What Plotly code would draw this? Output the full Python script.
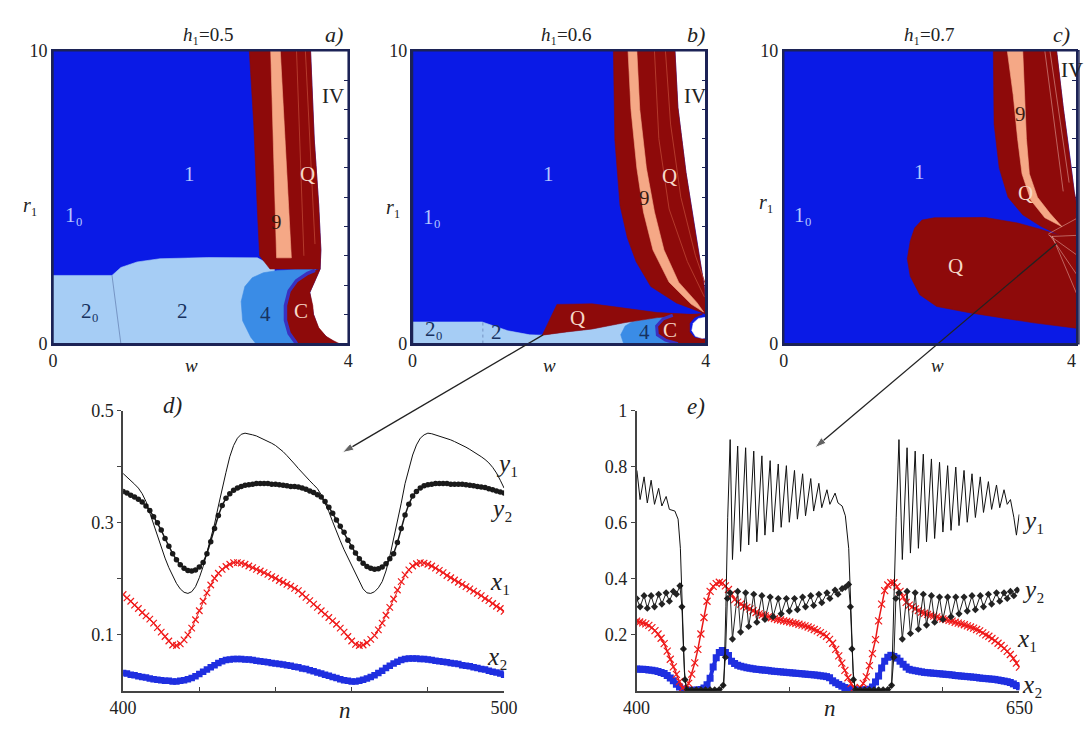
import plotly.graph_objects as go

W, H = 1090, 733
FONT = "Liberation Serif, Times New Roman, DejaVu Serif, serif"

# ---------------- panel a (h1 = 0.5): regions in (w, r1) ----------------
A_BLUE_W = [0, 0, 3.49, 3.54, 3.60, 3.63, 3.62, 3.56, 3.48, 3.53, 3.60, 3.72, 3.86]
A_BLUE_R = [0, 10, 10, 6.98, 4.76, 3.2, 2.55, 2.2, 1.75, 1.0, 0.5, 0.2, 0]
A_LIGHT_W = [0, 0, 0.80, 0.92, 1.14, 1.45, 2.1, 2.77, 2.9, 3.0, 3.0]
A_LIGHT_R = [0, 2.33, 2.33, 2.6, 2.79, 2.9, 2.94, 2.93, 2.75, 2.6, 0]
A_DIV_W = [0.80, 0.92]
A_DIV_R = [2.33, 0]
A_FOUR_W = [2.75, 2.68, 2.57, 2.55, 2.60, 2.70, 2.85, 3.05, 3.3, 3.56, 3.40, 3.34]
A_FOUR_R = [0, 0.22, 0.78, 1.44, 1.95, 2.25, 2.42, 2.5, 2.53, 2.53, 1.0, 0]
A_C_W = [3.30, 3.20, 3.15, 3.15, 3.20, 3.30, 3.45, 3.55, 3.62, 3.56, 3.48, 3.52, 3.53, 3.60, 3.70, 3.80, 3.88]
A_C_R = [0, 0.35, 0.8, 1.3, 1.8, 2.15, 2.4, 2.5, 2.55, 2.2, 1.75, 1.3, 1.0, 0.55, 0.25, 0.1, 0]
A_RED_W = [2.66, 3.49, 3.54, 3.60, 3.63, 3.62, 2.94, 2.80, 2.77, 2.72]
A_RED_R = [10, 10, 6.98, 4.76, 3.2, 2.55, 2.55, 3.0, 4.5, 7.5]
A_NINE_W = [2.95, 3.08, 3.23, 3.03]
A_NINE_R = [10, 10, 2.93, 2.93]
A_STREAK_W = [3.30, 3.40, None, 3.42, 3.55]
A_STREAK_R = [10, 3.0, None, 10, 3.4]

# ---------------- panel b (h1 = 0.6) ----------------
B_BLUE_W = [0, 0, 3.58, 3.62, 3.73, 3.87, 3.98, 4.0, 4.0]
B_BLUE_R = [0, 10, 10, 8.07, 5.85, 3.62, 1.95, 1.0, 0]
B_LIGHT_W = [0, 0, 0.95, 1.1, 1.3, 1.6, 1.77, 2.1, 2.45, 2.9, 3.34, 3.7, 3.7]
B_LIGHT_R = [0, 0.74, 0.74, 0.62, 0.44, 0.3, 0.29, 0.4, 0.5, 0.72, 0.89, 0.95, 0]
B_DIV_W = [0.96, 0.96]
B_DIV_R = [0.72, 0]
B_FOUR_W = [2.88, 2.84, 2.9, 3.0, 3.34, 3.7, 3.7]
B_FOUR_R = [0, 0.3, 0.6, 0.75, 0.89, 0.95, 0]
B_Q_W = [1.77, 1.97, 2.45, 2.9, 3.34, 3.8, 3.96, 3.7, 3.34, 2.9, 2.45, 2.1]
B_Q_R = [0.29, 1.34, 1.36, 1.2, 1.06, 1.0, 1.02, 0.95, 0.89, 0.72, 0.5, 0.4]
B_C_W = [3.55, 3.42, 3.33, 3.34, 3.45, 3.62, 4.0, 4.0, 3.85, 3.78, 3.78, 3.85, 3.95]
B_C_R = [0.97, 0.85, 0.6, 0.3, 0.12, 0, 0, 0.15, 0.2, 0.4, 0.7, 0.9, 1.0]
B_HOLE_W = [3.86, 3.81, 3.83, 3.9, 4.0, 4.0, 3.95]
B_HOLE_R = [0.25, 0.45, 0.7, 0.86, 0.9, 0.2, 0.18]
B_RED_W = [2.74, 3.58, 3.62, 3.73, 3.87, 3.98, 4.0, 3.96, 3.6, 3.25, 3.05, 2.93, 2.83, 2.76]
B_RED_R = [10, 10, 8.07, 5.85, 3.62, 1.95, 1.0, 1.05, 1.39, 1.95, 2.8, 3.62, 4.73, 6.96]
B_NINE_W = [2.94, 2.98, 3.06, 3.15, 3.28, 3.5, 3.8, 3.97, 3.88, 3.63, 3.43, 3.30, 3.19, 3.10, 3.06]
B_NINE_R = [10, 8, 6, 4.5, 3.2, 2.1, 1.35, 1.08, 1.4, 2.1, 3.2, 4.5, 6, 8, 10]
B_STREAK_W = [3.30, 3.36, 3.5, 3.75, 3.98, None, 3.45, 3.52, 3.66, 3.86, 4.0]
B_STREAK_R = [10, 7.0, 4.6, 2.8, 1.6, None, 10, 7.5, 5.0, 3.0, 2.0]

# ---------------- panel c (h1 = 0.7) ----------------
C_BLUE_W = [0, 0, 3.71, 3.80, 3.89, 3.95, 4.0, 4.0]
C_BLUE_R = [0, 10, 10, 8.07, 6.41, 5.19, 4.5, 0]
C_RED_W = [2.85, 3.71, 3.80, 3.89, 3.95, 4.0, 4.0, 3.75, 3.5, 3.25, 3.05, 2.93, 2.86]
C_RED_R = [10, 10, 8.07, 6.41, 5.19, 4.5, 3.5, 3.7, 4.0, 4.4, 5.0, 6.0, 7.5]
C_NINE_W = [3.04, 3.12, 3.18, 3.24, 3.36, 3.55, 3.78, 3.62, 3.45, 3.34, 3.30, 3.28, 3.25]
C_NINE_R = [10, 8.5, 7.0, 5.8, 4.9, 4.3, 4.0, 4.45, 5.0, 5.8, 7.0, 8.5, 10]
C_BLOB_W = [1.72, 1.78, 1.88, 2.05, 2.74, 3.18, 3.5, 3.75, 4.0, 4.0, 3.4, 2.56, 2.08, 1.85, 1.72, 1.68]
C_BLOB_R = [3.5, 3.95, 4.22, 4.3, 4.31, 4.12, 3.9, 3.7, 3.55, 0.52, 0.71, 1.04, 1.27, 1.67, 2.3, 2.9]
C_STREAK_W = [3.55, 3.80, None, 3.62, 3.88, None, 3.6, 4.0, None, 3.6, 4.0, None, 3.62, 4.0, None, 3.65, 4.0, None, 3.65, 4.0]
C_STREAK_R = [10, 5.2, None, 10, 5.5, None, 3.75, 4.3, None, 3.72, 3.0, None, 3.7, 2.3, None, 3.68, 1.6, None, 3.66, 3.7]

# ---------------- panel d: n = 400..500 ----------------
D_N = list(range(400, 501))
D_Y1 = [0.388, 0.382, 0.376, 0.369, 0.362, 0.352, 0.338, 0.318, 0.296, 0.275,
        0.255, 0.237, 0.220, 0.205, 0.192, 0.182, 0.176, 0.174, 0.177, 0.186,
        0.202, 0.222, 0.246, 0.272, 0.298, 0.330, 0.362, 0.390, 0.418, 0.438,
        0.451, 0.458, 0.460, 0.459, 0.457, 0.455, 0.452, 0.449, 0.446, 0.442,
        0.438, 0.433, 0.427, 0.420, 0.413, 0.405, 0.397, 0.389, 0.382, 0.375,
        0.368, 0.361, 0.350, 0.336, 0.320, 0.302, 0.284, 0.268, 0.252, 0.238,
        0.222, 0.207, 0.193, 0.182, 0.175, 0.174, 0.177, 0.184, 0.195, 0.214,
        0.240, 0.270, 0.300, 0.335, 0.370, 0.397, 0.421, 0.439, 0.451, 0.457,
        0.460, 0.459, 0.457, 0.455, 0.453, 0.451, 0.448, 0.445, 0.442, 0.439,
        0.435, 0.431, 0.427, 0.423, 0.418, 0.413, 0.407, 0.399, 0.389, 0.376,
        0.362]
D_Y2 = [0.356, 0.353, 0.349, 0.346, 0.342, 0.337, 0.330, 0.322, 0.311, 0.300,
        0.287, 0.272, 0.258, 0.245, 0.234, 0.225, 0.219, 0.215, 0.214, 0.216,
        0.221, 0.229, 0.245, 0.266, 0.290, 0.313, 0.331, 0.344, 0.352, 0.358,
        0.362, 0.365, 0.367, 0.368, 0.369, 0.370, 0.370, 0.370, 0.370, 0.369,
        0.369, 0.368, 0.367, 0.366, 0.365, 0.365, 0.364, 0.362, 0.360, 0.357,
        0.354, 0.350, 0.346, 0.338, 0.328, 0.317, 0.305, 0.294, 0.283, 0.269,
        0.257, 0.246, 0.236, 0.228, 0.222, 0.219, 0.217, 0.218, 0.221, 0.227,
        0.236, 0.245, 0.265, 0.290, 0.314, 0.333, 0.348, 0.356, 0.362, 0.366,
        0.368, 0.369, 0.370, 0.370, 0.370, 0.370, 0.369, 0.369, 0.369, 0.369,
        0.368, 0.367, 0.366, 0.365, 0.364, 0.363, 0.361, 0.359, 0.357, 0.355,
        0.353]
D_X1 = [0.172, 0.166, 0.160, 0.153, 0.147, 0.140, 0.134, 0.128, 0.121, 0.113,
        0.105, 0.097, 0.089, 0.082, 0.081, 0.084, 0.091, 0.100, 0.112, 0.127,
        0.143, 0.160, 0.175, 0.189, 0.201, 0.210, 0.217, 0.222, 0.226, 0.229,
        0.229, 0.228, 0.226, 0.223, 0.220, 0.217, 0.214, 0.211, 0.208, 0.204,
        0.201, 0.197, 0.194, 0.190, 0.187, 0.183, 0.179, 0.173, 0.167, 0.161,
        0.155, 0.149, 0.143, 0.137, 0.131, 0.125, 0.119, 0.112, 0.105, 0.097,
        0.089, 0.083, 0.081, 0.082, 0.086, 0.092, 0.099, 0.109, 0.121, 0.135,
        0.149, 0.164, 0.180, 0.195, 0.207, 0.216, 0.223, 0.227, 0.229, 0.228,
        0.226, 0.223, 0.219, 0.215, 0.211, 0.206, 0.202, 0.198, 0.194, 0.190,
        0.186, 0.182, 0.178, 0.174, 0.170, 0.165, 0.161, 0.156, 0.151, 0.147,
        0.142]
D_X2 = [0.032, 0.031, 0.029, 0.028, 0.026, 0.025, 0.024, 0.022, 0.021, 0.020,
        0.019, 0.018, 0.018, 0.017, 0.017, 0.018, 0.019, 0.021, 0.023, 0.026,
        0.030, 0.034, 0.038, 0.042, 0.046, 0.050, 0.053, 0.055, 0.056, 0.057,
        0.057, 0.057, 0.056, 0.056, 0.055, 0.054, 0.053, 0.052, 0.051, 0.050,
        0.049, 0.048, 0.047, 0.046, 0.045, 0.043, 0.042, 0.040, 0.039, 0.037,
        0.035, 0.033, 0.031, 0.029, 0.027, 0.025, 0.023, 0.021, 0.019, 0.018,
        0.017, 0.017, 0.018, 0.020, 0.022, 0.025, 0.028, 0.032, 0.036, 0.041,
        0.045, 0.049, 0.052, 0.055, 0.057, 0.058, 0.058, 0.058, 0.057, 0.057,
        0.056, 0.055, 0.054, 0.053, 0.052, 0.051, 0.050, 0.049, 0.048, 0.046,
        0.045, 0.044, 0.042, 0.041, 0.039, 0.038, 0.036, 0.034, 0.033, 0.031,
        0.029]

# ---------------- panel e: n = 400..650 ----------------
E_N = list(range(400, 651, 2))
E_X1 = [0.249, 0.246, 0.243, 0.239, 0.234, 0.226, 0.215, 0.203, 0.188, 0.169,
        0.142, 0.113, 0.086, 0.059, 0.033, 0.010, 0.004, 0.027, 0.060, 0.100,
        0.148, 0.203, 0.262, 0.320, 0.355, 0.373, 0.383, 0.388, 0.385, 0.375,
        0.362, 0.345, 0.326, 0.317, 0.310, 0.303, 0.298, 0.293, 0.286, 0.280,
        0.275, 0.271, 0.268, 0.264, 0.261, 0.258, 0.255, 0.253, 0.250, 0.248,
        0.246, 0.243, 0.241, 0.238, 0.235, 0.232, 0.228, 0.224, 0.219, 0.214,
        0.208, 0.202, 0.195, 0.184, 0.170, 0.148, 0.125, 0.099, 0.073, 0.047,
        0.026, 0.010, 0.003, 0.012, 0.027, 0.050, 0.090, 0.133, 0.183, 0.250,
        0.310, 0.358, 0.378, 0.386, 0.386, 0.372, 0.355, 0.335, 0.316, 0.306,
        0.300, 0.293, 0.287, 0.281, 0.277, 0.273, 0.270, 0.267, 0.264, 0.260,
        0.257, 0.255, 0.252, 0.249, 0.245, 0.242, 0.239, 0.236, 0.232, 0.228,
        0.224, 0.219, 0.214, 0.207, 0.200, 0.195, 0.187, 0.179, 0.170, 0.162,
        0.152, 0.141, 0.130, 0.116, 0.099, 0.085]
E_X2 = [0.078, 0.077, 0.077, 0.076, 0.075, 0.074, 0.072, 0.069, 0.066, 0.062,
        0.055, 0.046, 0.036, 0.024, 0.014, 0.007, 0.003, 0.002, 0.002, 0.002,
        0.003, 0.005, 0.010, 0.022, 0.045, 0.085, 0.118, 0.137, 0.144, 0.137,
        0.126, 0.106, 0.098, 0.092, 0.088, 0.085, 0.083, 0.081, 0.079, 0.077,
        0.076, 0.075, 0.074, 0.073, 0.071, 0.070, 0.069, 0.068, 0.067, 0.066,
        0.065, 0.064, 0.063, 0.062, 0.061, 0.060, 0.059, 0.058, 0.057, 0.056,
        0.054, 0.053, 0.051, 0.047, 0.036, 0.029, 0.023, 0.017, 0.012, 0.008,
        0.006, 0.004, 0.003, 0.003, 0.003, 0.004, 0.006, 0.014, 0.032, 0.053,
        0.082, 0.106, 0.120, 0.127, 0.123, 0.117, 0.106, 0.095, 0.085, 0.077,
        0.074, 0.072, 0.070, 0.068, 0.066, 0.065, 0.064, 0.063, 0.062, 0.061,
        0.060, 0.059, 0.058, 0.057, 0.055, 0.054, 0.053, 0.052, 0.051, 0.050,
        0.049, 0.048, 0.046, 0.045, 0.044, 0.043, 0.042, 0.041, 0.039, 0.037,
        0.035, 0.033, 0.030, 0.025, 0.019, 0.015]
E_Y1_N = [400.2, 402.3, 404.9, 407, 409.5, 411.7, 414.4, 416.5, 419.3, 421.4,
          425, 427.1, 428.6, 429.9, 431.2, 432.4, 440, 450, 455, 457,
          458.3, 459.5, 461.1, 462.6, 466, 467.9, 471.2, 473.2, 476.5, 478.5,
          481.8, 483.8, 487.2, 489.1, 492.5, 494.4, 497.8, 499.7, 503.1, 505,
          508.4, 510.3, 513.7, 515.6, 519, 520.9, 524.3, 526.2, 529.6, 531.5,
          534.2, 536.3, 538.5, 540.1, 541.4, 542.7, 550, 560, 565, 566.5,
          567.8, 569.5, 571.3, 573.5, 576.6, 578.8, 581.9, 584.0, 587.2, 589.3,
          592.5, 594.6, 597.8, 600.0, 603.1, 605.3, 608.4, 610.5, 613.8, 615.9,
          619.0, 621.2, 624.4, 626.5, 629.7, 631.8, 635.0, 637.1, 639.9, 642.0,
          644.1, 646.3, 648.0, 649.8]
E_Y1 = [0.787, 0.683, 0.764, 0.671, 0.752, 0.666, 0.723, 0.660, 0.694, 0.648,
        0.642, 0.613, 0.509, 0.300, 0.069, 0.006, 0.004, 0.004, 0.006, 0.020,
        0.300, 0.620, 0.897, 0.469, 0.874, 0.498, 0.868, 0.521, 0.856, 0.532,
        0.839, 0.556, 0.822, 0.567, 0.810, 0.584, 0.804, 0.602, 0.787, 0.613,
        0.775, 0.625, 0.758, 0.642, 0.741, 0.654, 0.718, 0.666, 0.706, 0.671,
        0.660, 0.625, 0.509, 0.300, 0.069, 0.006, 0.004, 0.004, 0.006, 0.020,
        0.300, 0.620, 0.897, 0.469, 0.868, 0.492, 0.856, 0.509, 0.845, 0.532,
        0.828, 0.544, 0.816, 0.567, 0.804, 0.573, 0.799, 0.590, 0.787, 0.602,
        0.775, 0.619, 0.764, 0.637, 0.747, 0.648, 0.735, 0.654, 0.718, 0.666,
        0.683, 0.620, 0.556, 0.630]
E_Y2_N = [400, 402.3, 404.9, 407, 409.5, 411.7, 414.4, 416.5, 419.3, 421.4,
          424, 426, 428.3, 429.6, 430.6, 431.6, 433, 436, 439, 442,
          445, 448, 451, 454, 456.5, 458, 459.3, 461.1, 462.6, 466,
          467.9, 471.2, 473.2, 476.5, 478.5, 481.8, 483.8, 487.2, 489.1, 492.5,
          494.4, 497.8, 499.7, 503.1, 505, 508.4, 510.3, 513.7, 515.6, 519,
          520.9, 524.3, 526.2, 529.6, 531.5, 534.2, 536.3, 538.4, 539.6, 540.6,
          541.6, 543, 546, 549, 552, 555, 558, 561, 564, 566.5,
          568, 569.3, 571.3, 573.5, 576.6, 578.8, 581.9, 584.0, 587.2, 589.3,
          592.5, 594.6, 597.8, 600.0, 603.1, 605.3, 608.4, 610.5, 613.8, 615.9,
          619.0, 621.2, 624.4, 626.5, 629.7, 631.8, 635.0, 637.1, 639.9, 642.0,
          644.1, 646.3, 648.5]
E_Y2 = [0.330, 0.300, 0.340, 0.295, 0.340, 0.300, 0.345, 0.310, 0.350, 0.320,
        0.355, 0.345, 0.375, 0.300, 0.150, 0.040, 0.005, 0.004, 0.004, 0.004,
        0.004, 0.004, 0.004, 0.005, 0.020, 0.120, 0.330, 0.350, 0.185, 0.355,
        0.210, 0.350, 0.230, 0.345, 0.245, 0.340, 0.255, 0.335, 0.265, 0.330,
        0.275, 0.330, 0.285, 0.330, 0.290, 0.335, 0.300, 0.340, 0.305, 0.345,
        0.315, 0.350, 0.330, 0.360, 0.345, 0.365, 0.370, 0.380, 0.300, 0.150,
        0.040, 0.005, 0.004, 0.004, 0.004, 0.004, 0.004, 0.004, 0.005, 0.020,
        0.120, 0.330, 0.350, 0.185, 0.355, 0.205, 0.350, 0.220, 0.345, 0.235,
        0.340, 0.245, 0.335, 0.255, 0.335, 0.265, 0.335, 0.275, 0.335, 0.285,
        0.340, 0.290, 0.340, 0.300, 0.345, 0.310, 0.350, 0.320, 0.350, 0.330,
        0.355, 0.340, 0.360]

# ---------------- colours ----------------
BLUE = "#0a1ae6"
LIGHT = "#a6cdf5"
MID = "#3a8ce6"
BORDER = "#3a30c0"
RED = "#8e0a0a"
SALMON = "#f5a886"
FRAME = "#1c2356"

fig = go.Figure()


def poly(xs, ys, color, ax):
    fig.add_trace(go.Scatter(
        x=list(xs) + [xs[0]], y=list(ys) + [ys[0]], mode="lines", fill="toself",
        fillcolor=color, line=dict(width=0.6, color=color), hoverinfo="skip",
        showlegend=False, xaxis="x" + ax, yaxis="y" + ax))


def line(xs, ys, color, width, ax, dash="solid"):
    fig.add_trace(go.Scatter(
        x=xs, y=ys, mode="lines", line=dict(width=width, color=color, dash=dash),
        hoverinfo="skip", showlegend=False, xaxis="x" + ax, yaxis="y" + ax,
        connectgaps=False))


# panel a
poly(A_BLUE_W, A_BLUE_R, BLUE, "")
poly(A_LIGHT_W, A_LIGHT_R, LIGHT, "")
line(A_DIV_W, A_DIV_R, "#6a86b8", 0.8, "")
poly(A_FOUR_W, A_FOUR_R, MID, "")
poly(A_C_W, A_C_R, RED, "")
line(A_C_W[:8], A_C_R[:8], BORDER, 3.5, "")
poly(A_RED_W, A_RED_R, RED, "")
poly(A_NINE_W, A_NINE_R, SALMON, "")
line(A_STREAK_W, A_STREAK_R, "#b43a2c", 1.0, "")

# panel b
poly(B_BLUE_W, B_BLUE_R, BLUE, "2")
poly(B_LIGHT_W, B_LIGHT_R, LIGHT, "2")
line(B_DIV_W, B_DIV_R, "#6a86b8", 0.8, "2", dash="dot")
poly(B_FOUR_W, B_FOUR_R, MID, "2")
poly(B_Q_W, B_Q_R, RED, "2")
poly(B_C_W, B_C_R, RED, "2")
line(B_C_W[:6], B_C_R[:6], BORDER, 3.0, "2")
poly(B_HOLE_W, B_HOLE_R, "#ffffff", "2")
poly(B_RED_W, B_RED_R, RED, "2")
poly(B_NINE_W, B_NINE_R, SALMON, "2")
line(B_STREAK_W, B_STREAK_R, "#b43a2c", 1.0, "2")

# panel c
poly(C_BLUE_W, C_BLUE_R, BLUE, "3")
poly(C_RED_W, C_RED_R, RED, "3")
poly(C_BLOB_W, C_BLOB_R, RED, "3")
poly(C_NINE_W, C_NINE_R, SALMON, "3")
line(C_STREAK_W, C_STREAK_R, "rgba(255,215,205,0.55)", 0.8, "3")

# panel d
fig.add_trace(go.Scatter(x=D_N, y=D_X2, mode="lines+markers", line=dict(color="#1f2fe0", width=3),
                         marker=dict(symbol="square", size=6.5, color="#1f2fe0"),
                         hoverinfo="skip", showlegend=False, xaxis="x4", yaxis="y4"))
fig.add_trace(go.Scatter(x=D_N, y=D_X1, mode="lines+markers", line=dict(color="#e81818", width=1),
                         marker=dict(symbol="x-thin", size=6.5, line=dict(color="#f01a1a", width=1.2)),
                         hoverinfo="skip", showlegend=False, xaxis="x4", yaxis="y4"))
fig.add_trace(go.Scatter(x=D_N, y=D_Y2, mode="lines+markers", line=dict(color="#1a1a1a", width=1.5),
                         marker=dict(symbol="circle", size=5.5, color="#1a1a1a"),
                         hoverinfo="skip", showlegend=False, xaxis="x4", yaxis="y4"))
fig.add_trace(go.Scatter(x=D_N, y=D_Y1, mode="lines", line=dict(color="#111", width=1),
                         hoverinfo="skip", showlegend=False, xaxis="x4", yaxis="y4"))

# panel e
fig.add_trace(go.Scatter(x=E_N, y=E_X2, mode="lines+markers", line=dict(color="#1f2fe0", width=4),
                         marker=dict(symbol="square", size=7, color="#1f2fe0"),
                         hoverinfo="skip", showlegend=False, xaxis="x5", yaxis="y5"))
fig.add_trace(go.Scatter(x=E_N, y=E_X1, mode="lines+markers", line=dict(color="#e81818", width=1.5),
                         marker=dict(symbol="x-thin", size=7, line=dict(color="#f01a1a", width=1.2)),
                         hoverinfo="skip", showlegend=False, xaxis="x5", yaxis="y5"))
fig.add_trace(go.Scatter(x=E_Y2_N, y=E_Y2, mode="lines+markers", line=dict(color="#222", width=1),
                         marker=dict(symbol="diamond", size=5.5, color="#222"),
                         hoverinfo="skip", showlegend=False, xaxis="x5", yaxis="y5"))
fig.add_trace(go.Scatter(x=E_Y1_N, y=E_Y1, mode="lines", line=dict(color="#111", width=1),
                         hoverinfo="skip", showlegend=False, xaxis="x5", yaxis="y5"))

# arrows (page-pixel overlay axes), from the Q regions to panels d and e
for tail, head in [((543, 334), (337, 455)), ((1070, 240), (822, 450))]:
    fig.add_trace(go.Scatter(x=[tail[0], head[0]], y=[tail[1], head[1]], mode="lines+markers",
                             line=dict(color="#222", width=1.3),
                             marker=dict(symbol="arrow", size=[0, 12], angleref="previous", color="#222"),
                             hoverinfo="skip", showlegend=False, xaxis="x6", yaxis="y6", cliponaxis=False))


def fx(x):
    return x / W


def fy(y):
    return 1 - y / H


tickfont = dict(family=FONT, size=18, color="#222")
top_y = [fy(343), fy(42)]


def top_x(rng, dom):
    return dict(domain=dom, range=rng, tickvals=[0, 4], ticks="inside", ticklen=4, tickcolor=FRAME,
                minor=dict(tickvals=[1, 2, 3], ticks="inside", ticklen=4, tickcolor=FRAME),
                showline=True, mirror="ticks", linecolor=FRAME, linewidth=1.5, layer="below traces",
                showgrid=False, zeroline=False, tickfont=tickfont, fixedrange=True)


def top_yax(anchor):
    return dict(domain=top_y, range=[0, 10], tickvals=[0, 10], ticks="inside", ticklen=4,
                tickcolor=FRAME,
                minor=dict(tickvals=list(range(1, 10)), ticks="inside", ticklen=4, tickcolor=FRAME),
                showline=True, mirror="ticks", linecolor=FRAME, linewidth=1.5,
                layer="below traces", showgrid=False, zeroline=False, tickfont=tickfont,
                anchor=anchor, fixedrange=True)


bottom_y = [fy(700), fy(412)]
AXC = "#444"

layout = dict(
    width=W, height=H, margin=dict(l=0, r=0, t=0, b=0),
    paper_bgcolor="white", plot_bgcolor="rgba(0,0,0,0)", showlegend=False,
    font=dict(family=FONT, color="#222"),
    xaxis=top_x([0, 4], [fx(40), fx(343)]), yaxis=top_yax("x"),
    xaxis2=top_x([0, 4], [fx(409), fx(710)]), yaxis2=top_yax("x2"),
    xaxis3=top_x([0, 3.974], [fx(790), 1.0]), yaxis3=top_yax("x3"),
    xaxis4=dict(domain=[fx(112), fx(503)], range=[400, 500], anchor="y4",
                tickvals=[400, 500], ticks="inside", ticklen=4, tickcolor=AXC,
                minor=dict(tickvals=[420, 440, 460, 480], ticks="inside", ticklen=4, tickcolor=AXC),
                showline=True, linecolor=AXC, linewidth=1.5,
                showgrid=False, zeroline=False, tickfont=tickfont),
    yaxis4=dict(domain=bottom_y, range=[0, 0.5], anchor="x4",
                tickvals=[0.1, 0.3, 0.5], ticks="outside", ticklen=4, tickcolor=AXC,
                minor=dict(tickvals=[0.2, 0.4], ticks="outside", ticklen=4, tickcolor=AXC),
                showline=True, linecolor=AXC, linewidth=1.5,
                showgrid=False, zeroline=False, tickfont=tickfont),
    xaxis5=dict(domain=[fx(639), fx(1032)], range=[400, 650], anchor="y5",
                tickvals=[400, 650], ticks="inside", ticklen=4, tickcolor=AXC,
                minor=dict(tickvals=[500, 600], ticks="inside", ticklen=4, tickcolor=AXC),
                showline=True, linecolor=AXC, linewidth=1.5,
                showgrid=False, zeroline=False, tickfont=tickfont),
    yaxis5=dict(domain=bottom_y, range=[0, 1], anchor="x5",
                tickvals=[0.2, 0.4, 0.6, 0.8, 1.0], ticktext=["0.2", "0.4", "0.6", "0.8", "1"],
                ticks="outside", ticklen=4, tickcolor=AXC, showline=True, linecolor=AXC, linewidth=1.5,
                showgrid=False, zeroline=False, tickfont=tickfont),
    xaxis6=dict(domain=[0, 1], range=[0, W], anchor="y6", visible=False, fixedrange=True),
    yaxis6=dict(domain=[0, 1], range=[H, 0], anchor="x6", visible=False, fixedrange=True),
)
fig.update_layout(**layout)

# frames of the top panels
for xr, yr, x1 in [("x", "y", 1), ("x2", "y2", 1), ("x3", "y3", 1.01)]:
    fig.add_shape(type="rect", xref=xr + " domain", yref=yr + " domain", x0=0, x1=x1, y0=0, y1=1,
                  line=dict(color=FRAME, width=1.5), layer="above")

ann = []


def txt(text, x, y, size=17, color="#222", xanchor="center", xref="paper", yref="paper", paper=True):
    ann.append(dict(text=text, x=fx(x) if paper else x, y=fy(y) if paper else y,
                    xref=xref, yref=yref, showarrow=False, xanchor=xanchor, yanchor="middle",
                    font=dict(family=FONT, size=size, color=color)))


# top titles / axis names
for hx, lab_x, hval, lab in [(200, 328, "0.5", "a)"), (567, 700, "0.6", "b)"), (940, 1075, "0.7", "c)")]:
    txt("<i>h</i>\u2081=" + hval, hx, 25, 19)
    txt("<i>" + lab + "</i>", lab_x, 25, 22)
for rx, ry in [(17, 200), (390, 203), (772, 197)]:
    txt("<i>r</i>\u2081", rx, ry, 20)
for wx in [182, 550, 948]:
    txt("<i>w</i>", wx, 365, 19)
txt("4", 1085, 361, 18)

# bottom panel labels
txt("<i>d)</i>", 163, 407, 23)
txt("<i>e)</i>", 700, 408, 23)
txt("<i>n</i>", 340, 720, 23)
txt("<i>n</i>", 838, 718, 23)
txt("<i>y</i>\u2081", 493, 466, 25, xanchor="left")
txt("<i>y</i>\u2082", 487, 512, 25, xanchor="left")
txt("<i>x</i>\u2081", 487, 588, 25, xanchor="left")
txt("<i>x</i>\u2082", 483, 665, 25, xanchor="left")
txt("<i>y</i>\u2081", 1033, 525, 25, xanchor="left")
txt("<i>y</i>\u2082", 1033, 596, 25, xanchor="left")
txt("<i>x</i>\u2081", 1027, 646, 25, xanchor="left")
txt("<i>x</i>\u2082", 1033, 693, 25, xanchor="left")

# region labels (data coordinates)
LB = "#b4c6ff"
DK = "#173260"
PK = "#f6d8c8"
NN = "#3a1a10"
region_labels = [
    ("", "1", 1.85, 5.8, LB), ("", "1\u2080", 0.28, 4.4, LB), ("", "2\u2080", 0.5, 1.1, DK),
    ("", "2", 1.76, 1.1, DK), ("", "4", 2.88, 1.0, DK), ("", "C", 3.36, 1.1, PK),
    ("", "Q", 3.45, 5.8, PK), ("", "9", 3.03, 4.15, NN), ("", "IV", 3.8, 8.47, "#222"),
    ("2", "1", 1.86, 5.79, LB), ("2", "1\u2080", 0.27, 4.34, LB), ("2", "2\u2080", 0.29, 0.5, DK),
    ("2", "2", 1.15, 0.39, DK), ("2", "Q", 2.25, 0.89, PK), ("2", "4", 3.16, 0.39, DK),
    ("2", "C", 3.51, 0.45, PK), ("2", "9", 3.16, 4.96, NN), ("2", "Q", 3.51, 5.73, PK),
    ("2", "IV", 3.85, 8.46, "#222"),
    ("3", "1", 1.85, 5.86, LB), ("3", "1\u2080", 0.26, 4.4, LB), ("3", "9", 3.22, 7.85, NN),
    ("3", "Q", 3.29, 5.14, PK), ("3", "Q", 2.34, 2.65, PK),
]
for ax, t, x, y, c in region_labels:
    txt(t, x, y, 21, c, xref="x" + ax, yref="y" + ax, paper=False)
txt("IV", 3.74, 9.35, 21, "#222", xanchor="left", xref="x3", yref="y3", paper=False)

fig.update_layout(annotations=ann)

fig.write_html("out.html", config={"displayModeBar": False},
               post_script="document.body.style.margin='0';document.body.style.overflow='hidden';")
